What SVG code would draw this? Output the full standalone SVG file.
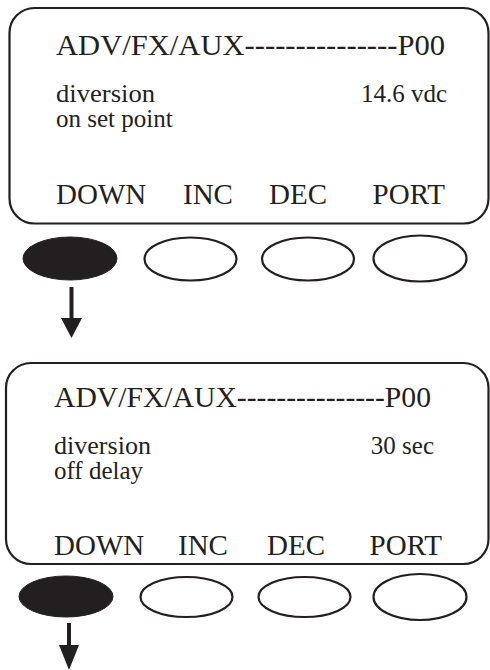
<svg xmlns="http://www.w3.org/2000/svg" width="490" height="670" viewBox="0 0 490 670">
<style>
.panel{fill:none;stroke:#231f20;stroke-width:2.2}
.t{font-family:"Liberation Serif","Times New Roman",serif;fill:#231f20}
.h{font-size:29px}
.m{font-size:25px}
.b{font-size:29px}
.btn{fill:#fff;stroke:#231f20;stroke-width:2.2}
.on{fill:#231f20;stroke:#231f20;stroke-width:1}
.shaft{stroke:#231f20;stroke-width:4}
.head{fill:#231f20}
</style>
<rect width="490" height="670" fill="#fff"/>
<g id="screen1">
<rect class="panel" x="9.5" y="8" width="479" height="215.5" rx="25" ry="25"/>
<text class="t h" x="56" y="55" textLength="389" lengthAdjust="spacingAndGlyphs">ADV/FX/AUX---------------P00</text>
<text class="t m" x="56" y="102" textLength="99" lengthAdjust="spacingAndGlyphs">diversion</text>
<text class="t m" x="56" y="127">on set point</text>
<text class="t m" x="447" y="102" text-anchor="end">14.6 vdc</text>
<text class="t b" x="56" y="204">DOWN</text>
<text class="t b" x="183" y="204">INC</text>
<text class="t b" x="269" y="204">DEC</text>
<text class="t b" x="445" y="204" text-anchor="end">PORT</text>
</g>
<g id="buttons1">
<ellipse class="on" cx="70" cy="258.5" rx="47" ry="21.5"/>
<ellipse class="btn" cx="190.5" cy="259" rx="46" ry="21.5"/>
<ellipse class="btn" cx="308" cy="259" rx="46" ry="21.5"/>
<ellipse class="btn" cx="420" cy="258.5" rx="46.5" ry="23"/>
</g>
<g id="screen2">
<rect class="panel" x="6" y="363" width="482.5" height="201" rx="25" ry="25"/>
<text class="t h" x="54" y="407" textLength="377" lengthAdjust="spacingAndGlyphs">ADV/FX/AUX---------------P00</text>
<text class="t m" x="54" y="454" textLength="97" lengthAdjust="spacingAndGlyphs">diversion</text>
<text class="t m" x="54" y="479">off delay</text>
<text class="t m" x="434" y="454" text-anchor="end">30 sec</text>
<text class="t b" x="54" y="555">DOWN</text>
<text class="t b" x="178" y="555">INC</text>
<text class="t b" x="267" y="555">DEC</text>
<text class="t b" x="442" y="555" text-anchor="end">PORT</text>
</g>
<g id="buttons2">
<ellipse class="on" cx="66" cy="596.5" rx="47" ry="20.5"/>
<ellipse class="btn" cx="186.5" cy="597" rx="46" ry="20"/>
<ellipse class="btn" cx="304.5" cy="597" rx="46" ry="20"/>
<ellipse class="btn" cx="420" cy="597" rx="46.5" ry="23"/>
</g>
<g id="connectors">
<line class="shaft" x1="71.5" y1="287" x2="71.5" y2="320"/>
<polygon class="head" points="61,318 82,318 71.5,338"/>
<line class="shaft" x1="69" y1="623" x2="69" y2="647"/>
<polygon class="head" points="59,645 79,645 69,670"/>
</g>
</svg>
